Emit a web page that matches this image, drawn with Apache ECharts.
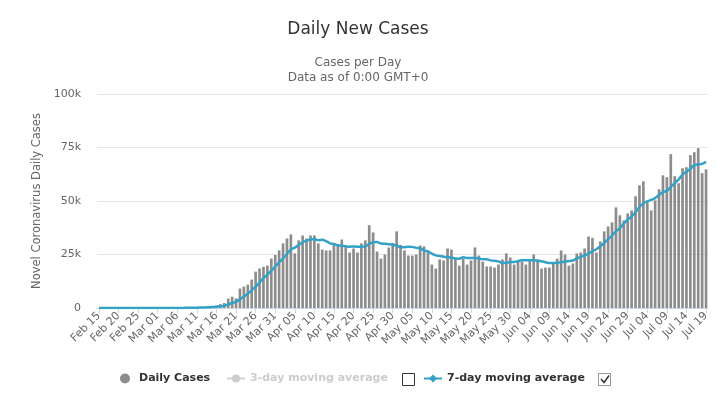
<!DOCTYPE html>
<html>
<head>
<meta charset="utf-8">
<script src="https://cdn.jsdelivr.net/npm/echarts@6/dist/echarts.min.js"></script>
<style>
  html, body { margin: 0; padding: 0; background: #fff; }
  #chart { width: 716px; height: 397px; }
</style>
</head>
<body>
<div id="chart"></div>
<script>
var monthNames = ['Jan','Feb','Mar','Apr','May','Jun','Jul','Aug','Sep','Oct','Nov','Dec'];
var startDay = Date.UTC(2020, 1, 15);
var dayCount = 156;

// daily new cases, Feb 15 .. Jul 19
var dailyCases = [
	0,0,0,0,0,0,2,0,0,18,
	0,6,1,1,6,9,23,20,31,68,
	45,140,116,65,376,322,382,516,548,772,
	1133,1789,2300,4400,5300,4500,9100,10000,10900,13300,
	17000,18500,19200,19800,23100,24800,26900,30200,32500,34400,
	25500,31600,33900,32500,33900,33900,30200,27300,26900,26900,
	30200,29700,32000,29000,25900,27800,25900,30200,31600,38700,
	35300,26400,23100,25000,28300,30400,35800,29500,26900,24500,
	24500,25000,29200,28800,25900,20300,18400,22700,22200,27800,
	27300,23100,19800,23100,20300,22200,28300,24500,21700,19400,
	19400,18900,20300,22700,25500,23600,20300,22200,21700,20300,
	22700,25000,22700,18400,18900,18900,20800,23100,26900,25000,
	19800,20800,25500,25900,27800,33400,32800,25900,31100,35800,
	38100,40000,47000,43300,40900,44200,45600,52200,57300,59200,
	49400,45600,50300,55500,62000,61100,71900,61600,58300,65300,
	65800,71400,72800,74700,63000,64800
];

// 7-day moving average as plotted
var avg7 = [
	0,0,0,0,0,0,0,0,0,3,
	3,4,4,4,5,6,7,9,13,23,
	29,48,63,69,120,162,207,274,332,426,
	578,780,1060,1640,2320,2880,4070,5340,6640,8210,
	10010,11900,14000,15530,17400,19390,21330,23210,25210,27390,
	28200,29410,30710,31510,32040,32240,31640,31900,31230,30230,
	29900,29300,29030,28860,28660,28790,28640,28640,28910,29870,
	30770,30840,30170,30040,29770,29600,29190,28360,28430,28630,
	28560,28090,27910,26910,26400,25460,24590,24330,23930,23730,
	23510,23110,23040,23710,23370,23370,23440,23040,22840,22790,
	22260,22060,21790,20990,21130,21400,21530,21930,22330,22330,
	22330,22260,22130,21860,21390,20990,21060,21110,21390,21710,
	21910,22190,23130,23860,24530,25460,26570,27440,28910,30390,
	32130,33870,35810,37310,39460,41330,42730,44740,47210,48960,
	49830,50500,51370,52790,54190,54730,56540,58290,60100,62240,
	63710,65060,66730,67130,67330,68260
];
var avg3 = []; // hidden in the original

var yTicks = [0, 25000, 50000, 75000, 100000];

var days = [];
for (var i = 0; i < dayCount; i++) {
	var d = new Date(startDay + i * 86400000);
	var dd = d.getUTCDate();
	days.push(monthNames[d.getUTCMonth()] + ' ' + (dd < 10 ? '0' + dd : dd));
}

var font = 'DejaVu Sans';
var chart = echarts.init(document.getElementById('chart'), null, {renderer: 'canvas'});

// legend items are placed one by one, like the original with its checkboxes
var legendBase = {
	bottom: 8,
	itemWidth: 18,
	itemHeight: 10,
	itemGap: 6,
	inactiveColor: '#ccc',
	textStyle: { fontFamily: font, fontSize: 11, fontWeight: 'bold', color: '#333' },
	selected: { '3-day moving average': false }
};

var option = {
	animation: false,
	backgroundColor: '#fff',
	textStyle: { fontFamily: font },
	title: [
		{
			text: 'Daily New Cases',
			left: 'center',
			top: 16,
			textStyle: { fontFamily: font, fontSize: 17, fontWeight: 'normal', color: '#333' }
		},
		{
			text: 'Cases per Day\nData as of 0:00 GMT+0',
			left: 'center',
			top: 50,
			textStyle: { fontFamily: font, fontSize: 12, fontWeight: 'normal', color: '#666', lineHeight: 15 }
		}
	],
	grid: { left: 97, right: 8, top: 94, bottom: 89, containLabel: false },
	legend: [
		Object.assign({}, legendBase, { left: 115, data: [{ name: 'Daily Cases', icon: 'circle' }] }),
		Object.assign({}, legendBase, { left: 221, data: [{ name: '3-day moving average' }] }),
		Object.assign({}, legendBase, { left: 418, data: [{ name: '7-day moving average' }] })
	],
	xAxis: {
		type: 'category',
		data: days,
		boundaryGap: true,
		axisLine: { lineStyle: { color: '#ccd6eb' } },
		axisTick: { show: true, interval: 4, alignWithLabel: true, length: 5, lineStyle: { color: '#ccd6eb' } },
		axisLabel: { interval: 4, rotate: 45, color: '#666', fontSize: 11, fontFamily: font, margin: 6 }
	},
	yAxis: {
		type: 'value',
		min: yTicks[0],
		max: yTicks[yTicks.length - 1],
		interval: 25000,
		name: 'Novel Coronavirus Daily Cases',
		nameLocation: 'middle',
		nameGap: 54,
		nameTextStyle: { color: '#666', fontSize: 11.5, fontFamily: font },
		axisLine: { show: false },
		axisTick: { show: false },
		axisLabel: {
			color: '#666', fontSize: 11, fontFamily: font, margin: 16,
			formatter: function (v) { return v === 0 ? '0' : (v / 1000) + 'k'; }
		},
		splitLine: { lineStyle: { color: '#e6e6e6' } }
	},
	series: [
		{
			name: 'Daily Cases',
			type: 'bar',
			data: dailyCases,
			barWidth: '68%',
			itemStyle: { color: '#8c8c8c' }
		},
		{
			name: '3-day moving average',
			type: 'line',
			data: avg3,
			symbol: 'circle',
			showSymbol: false,
			itemStyle: { color: '#c4c4c4' },
			lineStyle: { color: '#c4c4c4', width: 3 }
		},
		{
			name: '7-day moving average',
			type: 'line',
			data: avg7,
			symbol: 'diamond',
			symbolSize: 8,
			showSymbol: false,
			smooth: 0.3,
			itemStyle: { color: '#33a2c6' },
			lineStyle: { color: '#33a2c6', width: 2.5 }
		}
	],
	graphic: [
		{ type: 'rect', shape: { x: 402.5, y: 373.5, width: 12, height: 12 }, style: { fill: '#fff', stroke: '#333', lineWidth: 1 } },
		{ type: 'rect', shape: { x: 598.5, y: 373.5, width: 12, height: 12 }, style: { fill: '#fff', stroke: '#333', lineWidth: 1, lineDash: [1, 1] } },
		{ type: 'polyline', shape: { points: [[601, 379], [604, 382.5], [609, 375.5]] }, style: { stroke: '#333', lineWidth: 1.5, fill: null } }
	]
};
chart.setOption(option);
</script>
</body>
</html>
